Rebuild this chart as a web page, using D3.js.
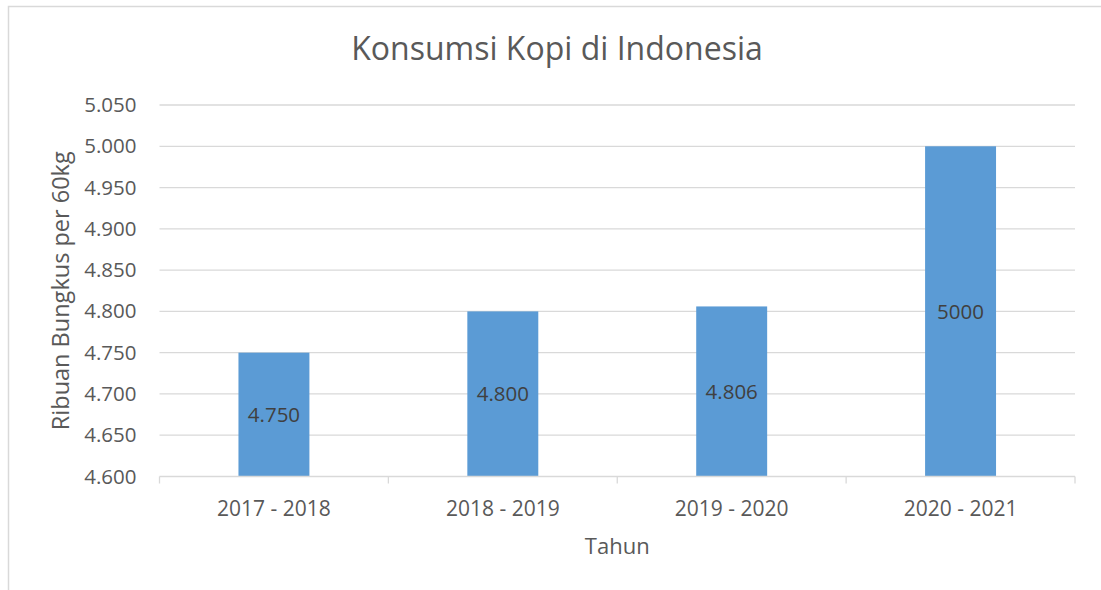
<!DOCTYPE html>
<html>
<head>
<meta charset="utf-8">
<script src="https://cdn.jsdelivr.net/npm/d3@7"></script>
<style>
  body { margin: 0; background: #fff; }
  text { font-family: "Open Sans", sans-serif; }
</style>
</head>
<body>
<div id="chart"></div>
<script>
// data
const categories = ["2017 - 2018", "2018 - 2019", "2019 - 2020", "2020 - 2021"];
const values = [4750, 4800, 4806, 5000];
const dataLabels = ["4.750", "4.800", "4.806", "5000"];
const yTicks = [4600, 4650, 4700, 4750, 4800, 4850, 4900, 4950, 5000, 5050];

const width = 1101, height = 590;
const margin = { top: 105, right: 26, bottom: 113.5, left: 159.5 };
const innerW = width - margin.left - margin.right;
const innerH = height - margin.top - margin.bottom;

const svg = d3.select("#chart").append("svg")
  .attr("width", width)
  .attr("height", height);

// chart border (runs off the right and bottom edges)
svg.append("rect")
  .attr("x", 8.5).attr("y", 6.5)
  .attr("width", width + 20).attr("height", height + 20)
  .attr("fill", "none")
  .attr("stroke", "#d9d9d9")
  .attr("stroke-width", 1.5);

const g = svg.append("g")
  .attr("transform", "translate(" + margin.left + "," + margin.top + ")");

const x = d3.scaleBand()
  .domain(categories)
  .range([0, innerW])
  .paddingInner(0.69)
  .paddingOuter(0.345);

const y = d3.scaleLinear()
  .domain([4600, 5050])
  .range([innerH, 0]);

const idFormat = d3.formatLocale({ decimal: ",", thousands: ".", grouping: [3], currency: ["Rp", ""] }).format(",.0f");

// gridlines
g.append("g")
  .selectAll("line")
  .data(yTicks.slice(1))
  .join("line")
  .attr("x1", 0).attr("x2", innerW)
  .attr("y1", d => y(d)).attr("y2", d => y(d))
  .attr("stroke", "#d9d9d9")
  .attr("stroke-width", 1.3);

// y axis labels
const yAxis = d3.axisLeft(y).tickValues(yTicks).tickFormat(idFormat).tickSize(0).tickPadding(23);
const yAxisGroup = g.append("g").call(yAxis);
yAxisGroup.select(".domain").remove();
yAxisGroup.selectAll("text")
  .attr("fill", "#595959")
  .style("font-size", "20.5px")
  .style("font-family", "'Open Sans', sans-serif");

// bars
g.selectAll(".bar")
  .data(values)
  .join("rect")
  .attr("class", "bar")
  .attr("x", (d, i) => x(categories[i]))
  .attr("y", d => y(d))
  .attr("width", x.bandwidth())
  .attr("height", d => innerH - y(d))
  .attr("fill", "#5b9bd5");

// data labels in the middle of each bar
g.selectAll(".label")
  .data(values)
  .join("text")
  .attr("class", "label")
  .attr("x", (d, i) => x(categories[i]) + x.bandwidth() / 2)
  .attr("y", d => (y(d) + innerH) / 2)
  .attr("dy", "0.35em")
  .attr("text-anchor", "middle")
  .attr("fill", "#404040")
  .style("font-size", "20.5px")
  .text((d, i) => dataLabels[i]);

// x axis: baseline with ticks between categories
const xAxisGroup = g.append("g").attr("transform", "translate(0," + innerH + ")");
xAxisGroup.append("line")
  .attr("x1", 0).attr("x2", innerW)
  .attr("stroke", "#d9d9d9").attr("stroke-width", 1.3);
xAxisGroup.selectAll(".tick-line")
  .data(d3.range(categories.length + 1))
  .join("line")
  .attr("class", "tick-line")
  .attr("x1", d => d * innerW / categories.length)
  .attr("x2", d => d * innerW / categories.length)
  .attr("y1", 0).attr("y2", 7)
  .attr("stroke", "#d9d9d9").attr("stroke-width", 1.3);
xAxisGroup.selectAll(".cat")
  .data(categories)
  .join("text")
  .attr("class", "cat")
  .attr("x", d => x(d) + x.bandwidth() / 2)
  .attr("y", 39)
  .attr("text-anchor", "middle")
  .attr("fill", "#595959")
  .style("font-size", "21px")
  .text(d => d);

// axis titles
svg.append("text")
  .attr("x", margin.left + innerW / 2)
  .attr("y", 554)
  .attr("text-anchor", "middle")
  .attr("fill", "#595959")
  .style("font-size", "22px")
  .text("Tahun");

svg.append("text")
  .attr("transform", "translate(69," + (margin.top + innerH / 2) + ") rotate(-90)")
  .attr("text-anchor", "middle")
  .attr("fill", "#595959")
  .style("font-size", "23.5px")
  .text("Ribuan Bungkus per 60kg");

// title
svg.append("text")
  .attr("x", 557)
  .attr("y", 60)
  .attr("text-anchor", "middle")
  .attr("fill", "#595959")
  .style("font-size", "32px")
  .text("Konsumsi Kopi di Indonesia");
</script>
</body>
</html>
